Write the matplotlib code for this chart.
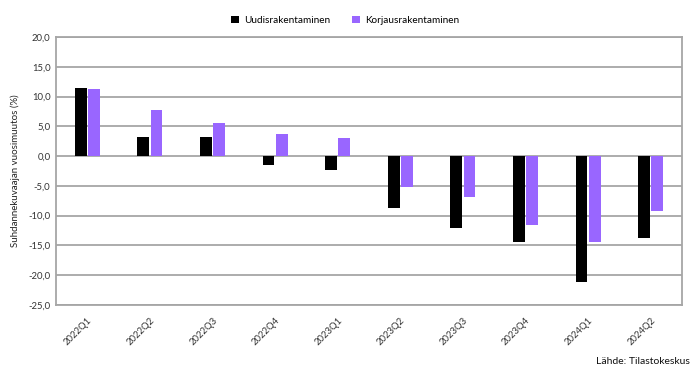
import matplotlib.pyplot as plt
import numpy as np

# data
quarters = ['2022Q1', '2022Q2', '2022Q3', '2022Q4', '2023Q1',
            '2023Q2', '2023Q3', '2023Q4', '2024Q1', '2024Q2']
uudis = [11.4, 3.2, 3.2, -1.5, -2.3, -8.7, -12.1, -14.4, -21.2, -13.8]
korjaus = [11.3, 7.8, 5.5, 3.7, 3.0, -5.2, -6.9, -11.6, -14.5, -9.2]
yticks = [-25, -20, -15, -10, -5, 0, 5, 10, 15, 20]

black = '#000000'
purple = '#9966FF'
grid = '#A6A6A6'

plt.rcParams['font.family'] = ['Lato', 'DejaVu Sans']

fig = plt.figure(figsize=(6.92, 3.67), dpi=100)
ax = fig.add_axes([0.081, 0.169, 0.9045, 0.730])

x = np.arange(len(quarters))
w = 0.19
ax.bar(x - w / 2 - 0.01, uudis, w, color=black, label='Uudisrakentaminen', zorder=3)
ax.bar(x + w / 2 + 0.01, korjaus, w, color=purple, label='Korjausrakentaminen', zorder=3)

ax.set_xlim(-0.5, len(quarters) - 0.5)
ax.set_ylim(-25, 20)
ax.set_yticks(yticks)
ax.set_yticklabels([f'{v:.1f}'.replace('.', ',') for v in yticks], fontsize=6.8, color='#333333')
ax.set_xticks(x)
ax.set_xticklabels(quarters, rotation=45, ha='right', rotation_mode='anchor',
                   fontsize=6.8, color='#333333')
ax.tick_params(axis='both', length=0, pad=4)
ax.tick_params(axis='x', pad=8)

ax.yaxis.grid(True, color=grid, linewidth=1.3, zorder=0)
for s in ['left', 'right', 'top', 'bottom']:
    ax.spines[s].set_color(grid)
    ax.spines[s].set_linewidth(1.3)

ax.set_ylabel('Suhdannekuvaajan vuosimuutos (%)', fontsize=7, color='#222222', labelpad=6)

ax.legend(loc='center', bbox_to_anchor=(0.462, 1.063), ncol=2, frameon=False,
          fontsize=7.2, handlelength=0.8, handleheight=0.8, handletextpad=0.5,
          columnspacing=2.2)

fig.text(0.997, 0.003, 'Lähde: Tilastokeskus', ha='right', va='bottom', fontsize=7.5,
         color='#111111')

fig.savefig('out.png', dpi=100)
